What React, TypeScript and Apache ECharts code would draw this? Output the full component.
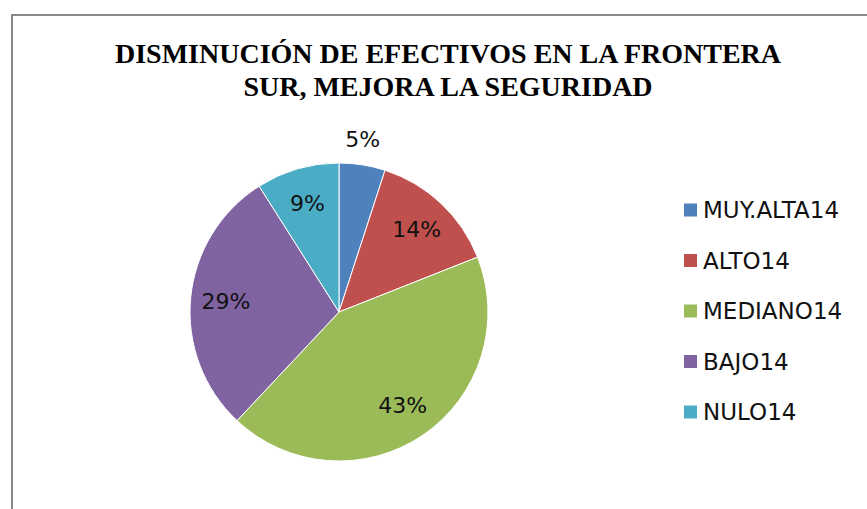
import React, { useEffect, useRef } from "react";
import * as echarts from "echarts";

const categories = ["MUY.ALTA14", "ALTO14", "MEDIANO14", "BAJO14", "NULO14"];
const values = [5, 14, 43, 29, 9];
const colors = ["#4F81BD", "#C0504D", "#9BBB59", "#8064A2", "#4BACC6"];
const titleLines = ["DISMINUCIÓN DE EFECTIVOS EN LA FRONTERA", "SUR, MEJORA LA SEGURIDAD"];

export default function App() {
  const ref = useRef<HTMLDivElement>(null);
  useEffect(() => {
    if (!ref.current) return;
    const chart = echarts.init(ref.current, undefined, { renderer: "svg" });
    const total = values.reduce((a, b) => a + b, 0);
    const pieData = categories.map((name, i) => ({
      name,
      value: values[i],
      itemStyle: { color: colors[i] },
    }));
    const labelData = categories.map((name, i) => ({
      name,
      value: values[i],
      label:
        i === 0
          ? { position: "inside", offset: [6, -60] }
          : { position: "inside" },
    }));
    chart.setOption({
      animation: false,
      backgroundColor: "#ffffff",
      graphic: [
        {
          type: "rect",
          shape: { x: 12, y: 15, width: 900, height: 600 },
          style: { fill: "none", stroke: "#8a8a8a", lineWidth: 2 },
          z: 0,
        },
        {
          type: "text",
          x: 448,
          y: 53,
          style: {
            text: titleLines[0],
            fontFamily: "Liberation Serif",
            fontWeight: "bold",
            fontSize: 28,
            fill: "#000",
            textAlign: "center",
            textVerticalAlign: "middle",
          },
        },
        {
          type: "text",
          x: 448,
          y: 86,
          style: {
            text: titleLines[1],
            fontFamily: "Liberation Serif",
            fontWeight: "bold",
            fontSize: 28,
            fill: "#000",
            textAlign: "center",
            textVerticalAlign: "middle",
          },
        },
      ],
      legend: {
        orient: "vertical",
        left: 677,
        top: 193.5,
        padding: 5,
        itemWidth: 15,
        itemHeight: 15,
        itemGap: 27.5,
        icon: "rect",
        data: categories,
        textStyle: { fontFamily: "DejaVu Sans", fontSize: 23, color: "#111" },
        selectedMode: false,
      },
      series: [
        {
          type: "pie",
          center: [339, 312],
          radius: [0, 149],
          startAngle: 90,
          clockwise: true,
          silent: true,
          label: { show: false },
          labelLine: { show: false },
          itemStyle: { borderColor: "#ffffff", borderWidth: 1 },
          data: pieData,
        },
        {
          type: "pie",
          center: [339, 312],
          radius: [72, 149],
          startAngle: 90,
          clockwise: true,
          silent: true,
          itemStyle: { color: "rgba(0,0,0,0)", borderWidth: 0 },
          labelLine: { show: false },
          label: {
            show: true,
            position: "inside",
            formatter: (p: any) => Math.round((p.value / total) * 100) + "%",
            fontFamily: "DejaVu Sans",
            fontSize: 22,
            color: "#111",
          },
          data: labelData,
        },
      ],
    });
    return () => chart.dispose();
  }, []);
  return (
    <div
      ref={ref}
      style={{ position: "fixed", left: 0, top: 0, width: 867, height: 509 }}
    />
  );
}
